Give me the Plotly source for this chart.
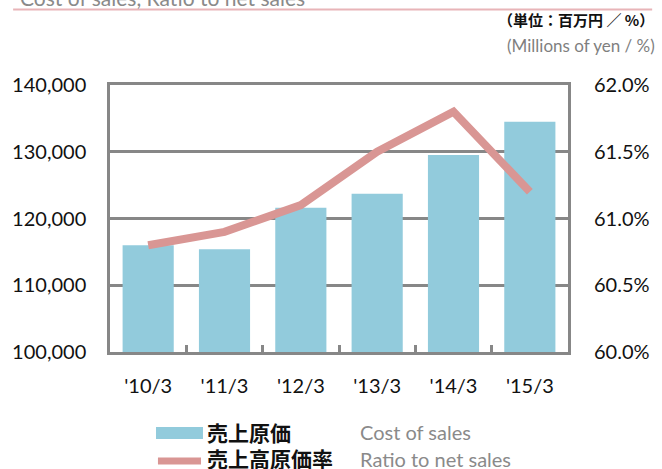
import plotly.graph_objects as go

categories = ["'10/3", "'11/3", "'12/3", "'13/3", "'14/3", "'15/3"]
cost_of_sales = [116000, 115400, 121600, 123700, 129500, 134500]
ratio = [0.608, 0.609, 0.611, 0.615, 0.618, 0.612]

W, H = 662, 469
L, R, T, B = 108, 576, 85, 352
pw, ph = R - L, B - T

def px(x):
    return (x - L) / pw

def py(y):
    return (B - y) / ph

BAR = "#92CBDC"
LINE = "#D99694"
GRID = "#878787"
NUMFONT = "Lato, Noto Sans CJK JP, sans-serif"
JPFONT = "Noto Sans CJK JP, sans-serif"

fig = go.Figure()
fig.add_trace(go.Bar(x=categories, y=cost_of_sales, marker=dict(color=BAR, line=dict(width=0)),
                     name="売上原価", showlegend=False))
fig.add_trace(go.Scatter(x=categories, y=ratio, yaxis="y2", mode="lines",
                         line=dict(color=LINE, width=8), name="売上高原価率", showlegend=False))

fig.update_layout(
    width=W, height=H, autosize=False,
    margin=dict(l=L, r=W - R, t=T, b=H - B, pad=0),
    plot_bgcolor="white", paper_bgcolor="white",
    bargap=0.33,
    xaxis=dict(type="category", showline=True, linecolor=GRID, linewidth=2.5, mirror=True,
               ticks="inside", tickson="boundaries", ticklen=7, tickwidth=2.5, tickcolor=GRID,
               showgrid=False, tickfont=dict(family=NUMFONT, size=20, color="#111"),
               ticklabelstandoff=14),
    yaxis=dict(range=[100000, 140000], dtick=10000, tickformat=",", showline=True,
               linecolor=GRID, linewidth=2.5, mirror=True, showgrid=True, gridcolor=GRID,
               gridwidth=2.5, ticks="", zeroline=False,
               tickfont=dict(family=NUMFONT, size=20, color="#111"), ticklabelstandoff=17),
    yaxis2=dict(range=[0.60, 0.62], dtick=0.005, tickformat=".1%", overlaying="y", side="right",
                showgrid=False, zeroline=False, showline=False, ticks="",
                tickfont=dict(family=NUMFONT, size=20, color="#111"), ticklabelstandoff=25),
)

shapes = [
    dict(type="line", xref="paper", yref="paper", x0=px(9), x1=px(662), y0=py(9.5), y1=py(9.5),
         line=dict(color="#E8B4B8", width=2)),
    dict(type="rect", xref="paper", yref="paper", x0=px(155), x1=px(203), y0=py(439), y1=py(427),
         fillcolor=BAR, line=dict(width=0)),
    dict(type="line", xref="paper", yref="paper", x0=px(157), x1=px(201), y0=py(461), y1=py(461),
         line=dict(color=LINE, width=7)),
]
fig.update_layout(shapes=shapes)

ann = [
    dict(text="Cost of sales, Ratio to net sales", x=px(14), y=py(11.5), xanchor="left", yanchor="bottom",
         font=dict(family=NUMFONT, size=21, color="#8a8a8a")),
    dict(text="（単位：百万円 ／ %）", x=px(666), y=py(19), xanchor="right", yanchor="middle",
         font=dict(family=JPFONT, size=15, color="#111", weight=700)),
    dict(text="(Millions of yen / %)", x=px(667), y=py(45), xanchor="right", yanchor="middle",
         font=dict(family=NUMFONT, size=17, color="#7f7f7f")),
    dict(text="売上原価", x=px(205), y=py(432), xanchor="left", yanchor="middle",
         font=dict(family=JPFONT, size=21, color="#111", weight=700)),
    dict(text="売上高原価率", x=px(205), y=py(458), xanchor="left", yanchor="middle",
         font=dict(family=JPFONT, size=21, color="#111", weight=700)),
    dict(text="Cost of sales", x=px(361), y=py(432), xanchor="left", yanchor="middle",
         font=dict(family=NUMFONT, size=20, color="#8a8a8a")),
    dict(text="Ratio to net sales", x=px(361), y=py(458.5), xanchor="left", yanchor="middle",
         font=dict(family=NUMFONT, size=20, color="#8a8a8a")),
]
for a in ann:
    a.update(xref="paper", yref="paper", showarrow=False)
fig.update_layout(annotations=ann)

fig.write_html("out.html", post_script="document.body.style.margin='0';",
               config={"displayModeBar": False})
